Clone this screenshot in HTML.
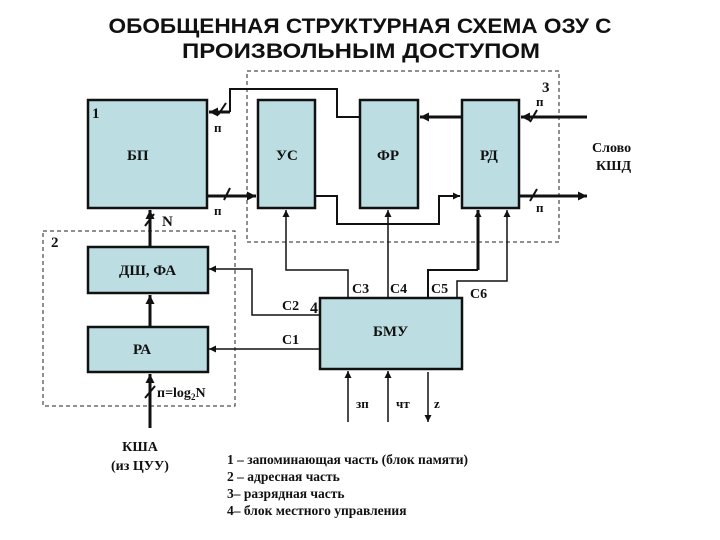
<!DOCTYPE html>
<html><head><meta charset="utf-8"><style>
html,body{margin:0;padding:0;background:#fff;}
svg{display:block;}
text{font-family:"Liberation Serif",serif;font-weight:bold;fill:#111;}
.t{font-family:"Liberation Sans",sans-serif;font-size:21px;}
</style></head><body>
<svg width="720" height="540" viewBox="0 0 720 540" xmlns="http://www.w3.org/2000/svg">
<defs>
<marker id="a" viewBox="0 0 10 10" refX="10" refY="5" markerWidth="7" markerHeight="7" markerUnits="userSpaceOnUse" orient="auto"><path d="M0,0 L10,5 L0,10 z" fill="#111"/></marker>
<marker id="b" viewBox="0 0 10 10" refX="10" refY="5" markerWidth="9" markerHeight="9" markerUnits="userSpaceOnUse" orient="auto"><path d="M0,0 L10,5 L0,10 z" fill="#111"/></marker>
</defs>
<text class="t" x="360" y="33" text-anchor="middle" textLength="503" lengthAdjust="spacingAndGlyphs">ОБОБЩЕННАЯ СТРУКТУРНАЯ СХЕМА ОЗУ С</text>
<text class="t" x="361" y="58" text-anchor="middle" textLength="358" lengthAdjust="spacingAndGlyphs">ПРОИЗВОЛЬНЫМ ДОСТУПОМ</text>

<rect x="247" y="71" width="312" height="171" fill="none" stroke="#222" stroke-width="1" stroke-dasharray="4,3"/>
<rect x="43" y="231" width="192" height="175" fill="none" stroke="#222" stroke-width="1" stroke-dasharray="4,3"/>

<g fill="#bcdde1" stroke="#111" stroke-width="2.5">
<rect x="88" y="100" width="119" height="108"/>
<rect x="258" y="100" width="57" height="108"/>
<rect x="360" y="100" width="58" height="108"/>
<rect x="462" y="100" width="57" height="108"/>
<rect x="88" y="247" width="120" height="46"/>
<rect x="88" y="327" width="120" height="45"/>
<rect x="320" y="298" width="142" height="71"/>
</g>

<g fill="none" stroke="#111">
<g stroke-width="3">
<path d="M230,112 H209" marker-end="url(#b)"/>
<path d="M207,196 H256" marker-end="url(#b)"/>
<path d="M462,117 H420" marker-end="url(#b)"/>
<path d="M587,117 H521" marker-end="url(#b)"/>
<path d="M519,196 H587" marker-end="url(#b)"/>
<path d="M150,247 V210" marker-end="url(#b)"/>
<path d="M150,327 V295" marker-end="url(#b)"/>
<path d="M150,428 V374" marker-end="url(#b)"/>
<path d="M478,270 V210" marker-end="url(#a)"/>
</g>
<g stroke-width="2">
<path d="M230,112 V89 H337 V117 H360"/>
<path d="M315,196 H337 V224 H439 V196 H460" marker-end="url(#a)"/>
<path d="M428,298 V270 H478"/>
<path d="M218,115 L226,103 M224,200 L230,188 M530,122 L537,110 M530,201 L537,189 M145,226 L154,214 M145,398 L155,386"/>
</g>
<g stroke-width="1.5">
<path d="M320,315 H252 V269 H209" marker-end="url(#a)"/>
<path d="M320,349 H209" marker-end="url(#a)"/>
<path d="M348,298 V270 H286 V210" marker-end="url(#a)"/>
<path d="M388,298 V210" marker-end="url(#a)"/>
<path d="M457,298 V281 H507 V210" marker-end="url(#a)"/>
<path d="M348,422 V371" marker-end="url(#a)"/>
<path d="M388,422 V371" marker-end="url(#a)"/>
<path d="M428,372 V422" marker-end="url(#a)"/>
</g>
</g>

<g font-size="15">
<text x="92" y="118">1</text>
<text x="127" y="160">БП</text>
<text x="276" y="160">УС</text>
<text x="377" y="160">ФР</text>
<text x="480" y="160">РД</text>
<text x="214" y="132" font-size="13">п</text>
<text x="214" y="215" font-size="13">п</text>
<text x="536" y="106" font-size="13">п</text>
<text x="536" y="212" font-size="13">п</text>
<text x="542" y="92">3</text>
<text x="592" y="152" font-size="14">Слово</text>
<text x="596" y="170" font-size="14">КШД</text>
<text x="162" y="226">N</text>
<text x="51" y="247">2</text>
<text x="119" y="275">ДШ, ФА</text>
<text x="133" y="354">РА</text>
<text x="310" y="313" font-size="16">4</text>
<text x="373" y="336">БМУ</text>
<text x="352" y="293" font-size="14">С3</text>
<text x="390" y="293" font-size="14">С4</text>
<text x="431" y="293" font-size="14">С5</text>
<text x="470" y="298" font-size="14">С6</text>
<text x="282" y="310" font-size="14">С2</text>
<text x="282" y="344" font-size="14">С1</text>
<text x="157" y="397" font-size="14">п=log<tspan font-size="9" dy="3">2</tspan><tspan dy="-3">N</tspan></text>
<text x="356" y="408" font-size="13">зп</text>
<text x="396" y="408" font-size="13">чт</text>
<text x="434" y="408" font-size="13">z</text>
<text x="140" y="451" font-size="14" text-anchor="middle">КША</text>
<text x="140" y="470" font-size="14" text-anchor="middle">(из ЦУУ)</text>
<g font-size="13.5" font-weight="normal">
<text x="227" y="464">1 – запоминающая часть (блок памяти)</text>
<text x="227" y="481">2 – адресная часть</text>
<text x="227" y="498">3– разрядная часть</text>
<text x="227" y="515">4– блок местного управления</text>
</g>
</g>
</svg>
</body></html>
